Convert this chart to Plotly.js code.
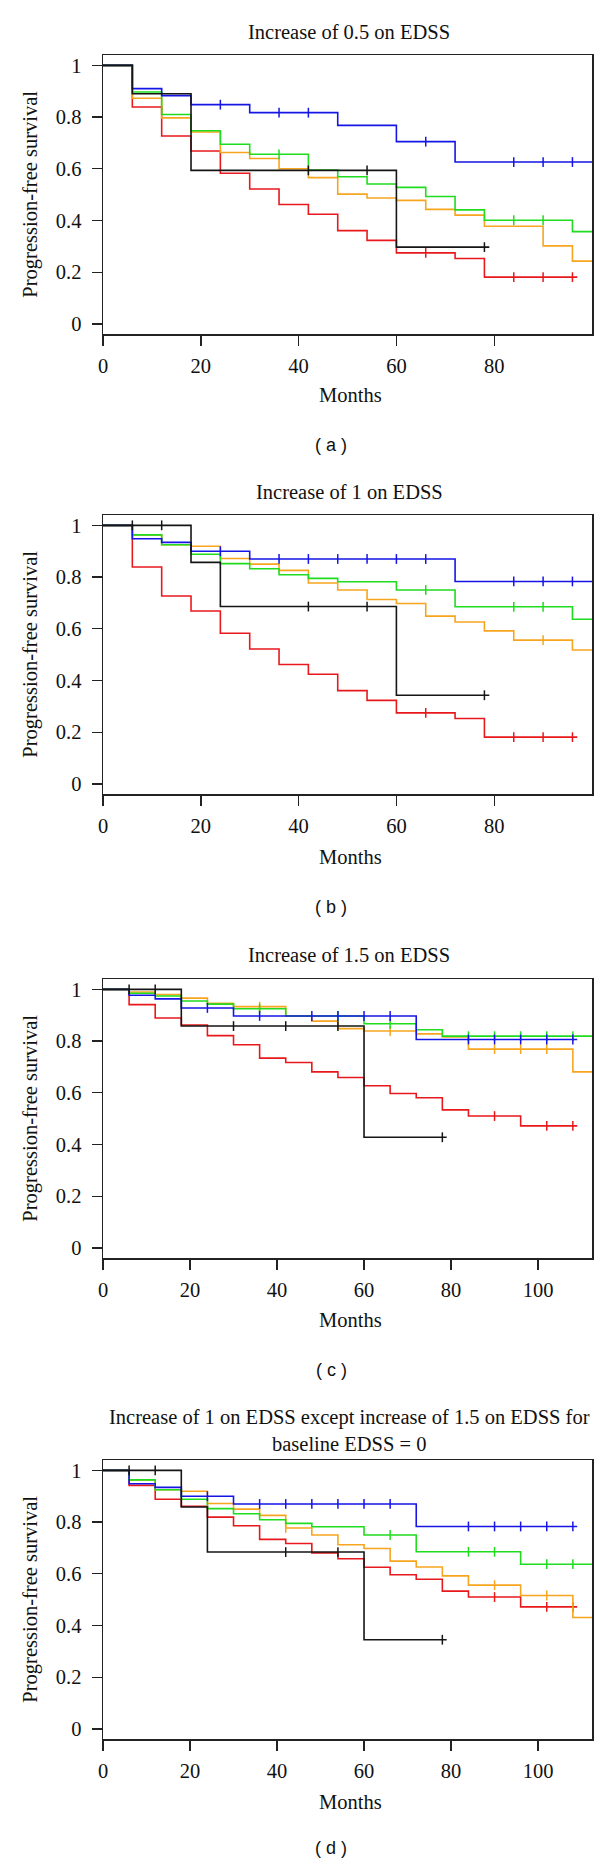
<!DOCTYPE html>
<html>
<head>
<meta charset="utf-8">
<script src="https://cdn.plot.ly/plotly-3.0.1.min.js"></script>
<style>html,body{margin:0;padding:0;background:#fff;}#chart{width:600px;height:1865px;}</style>
</head>
<body>
<div id="chart"></div>
<script>
// ---------- DATA (months, progression-free survival, censoring months) ----------
// Panel (a) Increase of 0.5 on EDSS
const aBlueT = [0, 6, 12, 18, 30, 48, 60, 72, 100];
const aBlueS = [1, 0.910, 0.883, 0.848, 0.817, 0.768, 0.705, 0.626, 0.626];
const aBlueC = [24, 36, 42, 66, 84, 90, 96];
const aGreenT = [0, 6, 12, 18, 24, 30, 42, 48, 54, 60, 66, 72, 78, 96, 100];
const aGreenS = [1, 0.897, 0.810, 0.747, 0.695, 0.656, 0.595, 0.569, 0.541, 0.528, 0.493, 0.441, 0.401, 0.357, 0.357];
const aGreenC = [36, 84, 90];
const aOrangeT = [0, 6, 12, 18, 24, 30, 36, 42, 48, 54, 60, 66, 72, 78, 90, 96, 100];
const aOrangeS = [1, 0.873, 0.797, 0.742, 0.663, 0.640, 0.600, 0.566, 0.502, 0.487, 0.478, 0.443, 0.421, 0.378, 0.302, 0.243, 0.243];
const aOrangeC = [];
const aRedT = [0, 6, 12, 18, 24, 30, 36, 42, 48, 54, 60, 72, 78, 97];
const aRedS = [1, 0.839, 0.727, 0.669, 0.583, 0.522, 0.462, 0.424, 0.361, 0.323, 0.275, 0.253, 0.181, 0.181];
const aRedC = [66, 84, 90, 96];
const aBlackT = [0, 6, 18, 60, 79];
const aBlackS = [1, 0.890, 0.594, 0.297, 0.297];
const aBlackC = [42, 54, 78];

// Panel (b) Increase of 1 on EDSS
const bBlueT = [0, 6, 12, 18, 30, 72, 100];
const bBlueS = [1, 0.948, 0.934, 0.900, 0.870, 0.783, 0.783];
const bBlueC = [24, 36, 42, 48, 54, 60, 66, 84, 90, 96];
const bGreenT = [0, 6, 12, 18, 24, 30, 36, 42, 48, 60, 72, 96, 100];
const bGreenS = [1, 0.963, 0.925, 0.888, 0.852, 0.832, 0.809, 0.795, 0.782, 0.750, 0.685, 0.637, 0.637];
const bGreenC = [66, 84, 90];
const bOrangeT = [0, 6, 12, 18, 24, 30, 36, 42, 48, 54, 60, 66, 72, 78, 84, 96, 100];
const bOrangeS = [1, 0.963, 0.925, 0.919, 0.872, 0.850, 0.826, 0.777, 0.750, 0.713, 0.698, 0.649, 0.626, 0.592, 0.556, 0.518, 0.518];
const bOrangeC = [90];
const bRedT = [0, 6, 12, 18, 24, 30, 36, 42, 48, 54, 60, 72, 78, 97];
const bRedS = [1, 0.839, 0.727, 0.669, 0.583, 0.522, 0.462, 0.424, 0.361, 0.323, 0.275, 0.253, 0.181, 0.181];
const bRedC = [66, 84, 90, 96];
const bBlackT = [0, 18, 24, 60, 79];
const bBlackS = [1, 0.857, 0.686, 0.343, 0.343];
const bBlackC = [6, 12, 42, 54, 78];

// Panel (c) Increase of 1.5 on EDSS
const cBlueT = [0, 6, 12, 18, 30, 72, 109];
const cBlueS = [1, 0.977, 0.963, 0.928, 0.897, 0.806, 0.806];
const cBlueC = [24, 36, 48, 54, 60, 66, 84, 90, 96, 102, 108];
const cGreenT = [0, 6, 12, 18, 24, 30, 42, 60, 72, 78, 113];
const cGreenS = [1, 0.985, 0.974, 0.955, 0.943, 0.925, 0.897, 0.867, 0.844, 0.819, 0.819];
const cGreenC = [36, 54, 66, 84, 90, 96, 102, 108];
const cOrangeT = [0, 6, 12, 18, 24, 30, 42, 48, 54, 60, 72, 78, 84, 108, 113];
const cOrangeS = [1, 0.990, 0.980, 0.966, 0.946, 0.933, 0.897, 0.877, 0.848, 0.839, 0.828, 0.816, 0.769, 0.681, 0.681];
const cOrangeC = [36, 66, 90, 96, 102];
const cRedT = [0, 6, 12, 18, 24, 30, 36, 42, 48, 54, 60, 66, 72, 78, 84, 96, 109];
const cRedS = [1, 0.941, 0.889, 0.862, 0.821, 0.786, 0.734, 0.717, 0.681, 0.659, 0.627, 0.597, 0.581, 0.534, 0.510, 0.472, 0.472];
const cRedC = [90, 102, 108];
const cBlackT = [0, 18, 60, 79];
const cBlackS = [1, 0.858, 0.428, 0.428];
const cBlackC = [6, 12, 30, 42, 54, 78];

// Panel (d) Increase of 1 on EDSS except increase of 1.5 on EDSS for baseline EDSS = 0
const dBlueT = [0, 6, 12, 18, 30, 72, 109];
const dBlueS = [1, 0.948, 0.934, 0.900, 0.870, 0.783, 0.783];
const dBlueC = [24, 36, 42, 48, 54, 60, 66, 84, 90, 96, 102, 108];
const dGreenT = [0, 6, 12, 18, 24, 30, 36, 42, 48, 60, 72, 96, 113];
const dGreenS = [1, 0.963, 0.925, 0.888, 0.852, 0.832, 0.809, 0.795, 0.782, 0.750, 0.685, 0.637, 0.637];
const dGreenC = [66, 84, 90, 102, 108];
const dOrangeT = [0, 6, 12, 18, 24, 30, 36, 42, 48, 54, 60, 66, 72, 78, 84, 96, 108, 113];
const dOrangeS = [1, 0.963, 0.925, 0.919, 0.872, 0.850, 0.826, 0.777, 0.750, 0.712, 0.698, 0.649, 0.626, 0.592, 0.556, 0.516, 0.431, 0.431];
const dOrangeC = [42, 90, 102];
const dRedT = [0, 6, 12, 18, 24, 30, 36, 42, 48, 54, 60, 66, 72, 78, 84, 96, 109];
const dRedS = [1, 0.942, 0.888, 0.861, 0.819, 0.786, 0.733, 0.717, 0.681, 0.658, 0.625, 0.596, 0.579, 0.533, 0.510, 0.472, 0.472];
const dRedC = [90, 102, 108];
const dBlackT = [0, 18, 24, 60, 79];
const dBlackS = [1, 0.858, 0.684, 0.345, 0.345];
const dBlackC = [6, 12, 42, 54, 78];

const panelTitles = ["Increase of 0.5 on EDSS", "Increase of 1 on EDSS", "Increase of 1.5 on EDSS",
  "Increase of 1 on EDSS except increase of 1.5 on EDSS for<br>baseline EDSS = 0"];
const panelLetters = ["( a )", "( b )", "( c )", "( d )"];
const xMax = [100, 100, 112.4, 112.4];
const xTicks = [[0, 20, 40, 60, 80], [0, 20, 40, 60, 80], [0, 20, 40, 60, 80, 100], [0, 20, 40, 60, 80, 100]];
const yTickVals = [0, 0.2, 0.4, 0.6, 0.8, 1];
const yTickText = ["0", "0.2", "0.4", "0.6", "0.8", "1"];
const xTitle = "Months";
const yTitle = "Progression-free survival";

// ---------- STYLE / LAYOUT ----------
const colors = {red: "#e8191c", orange: "#f7a51e", green: "#1fdc1f", blue: "#1515e6", black: "#151515"};
const panels = [
  {red: [aRedT, aRedS, aRedC], orange: [aOrangeT, aOrangeS, aOrangeC], green: [aGreenT, aGreenS, aGreenC], blue: [aBlueT, aBlueS, aBlueC], black: [aBlackT, aBlackS, aBlackC]},
  {red: [bRedT, bRedS, bRedC], orange: [bOrangeT, bOrangeS, bOrangeC], green: [bGreenT, bGreenS, bGreenC], blue: [bBlueT, bBlueS, bBlueC], black: [bBlackT, bBlackS, bBlackC]},
  {red: [cRedT, cRedS, cRedC], orange: [cOrangeT, cOrangeS, cOrangeC], green: [cGreenT, cGreenS, cGreenC], blue: [cBlueT, cBlueS, cBlueC], black: [cBlackT, cBlackS, cBlackC]},
  {red: [dRedT, dRedS, dRedC], orange: [dOrangeT, dOrangeS, dOrangeC], green: [dGreenT, dGreenS, dGreenC], blue: [dBlueT, dBlueS, dBlueC], black: [dBlackT, dBlackS, dBlackC]}
];
const order = ["red", "orange", "green", "blue", "black"];

const W = 600, H = 1865;
const plotLeft = 103, plotRight = 592;
const boxes = [{top: 55, bottom: 334.3}, {top: 515, bottom: 794.3}, {top: 979, bottom: 1258.3}, {top: 1460, bottom: 1739.3}];
const titleY = [32, 491.7, 955, 1430];
const monthsY = [395, 856.7, 1320, 1801.7];
const letterY = [445, 906.7, 1370, 1848];
const serif = "Liberation Serif, Times New Roman, serif";
const sans = "Liberation Sans, Arial, sans-serif";
const fs = 20.5;

function survAt(T, S, c) {
  let v = S[0];
  for (let i = 0; i < T.length; i++) if (T[i] <= c) v = S[i];
  return v;
}

const traces = [];
const layout = {
  width: W, height: H, margin: {l: 0, r: 0, t: 0, b: 0},
  paper_bgcolor: "#fff", plot_bgcolor: "#fff", showlegend: false,
  annotations: []
};

panels.forEach((p, i) => {
  const xa = i === 0 ? "x" : "x" + (i + 1);
  const ya = i === 0 ? "y" : "y" + (i + 1);
  order.forEach(k => {
    const [T, S, C] = p[k];
    traces.push({x: T, y: S, xaxis: xa, yaxis: ya, mode: "lines", line: {shape: "hv", color: colors[k], width: 1.6}, hoverinfo: "skip"});
    if (C.length) {
      traces.push({x: C, y: C.map(c => survAt(T, S, c)), xaxis: xa, yaxis: ya, mode: "markers",
        marker: {symbol: "line-ns", size: 7, line: {color: colors[k], width: 1.5}}, cliponaxis: false, hoverinfo: "skip"});
    }
  });
  const b = boxes[i];
  const xKey = i === 0 ? "xaxis" : "xaxis" + (i + 1);
  const yKey = i === 0 ? "yaxis" : "yaxis" + (i + 1);
  layout[xKey] = {
    domain: [plotLeft / W, plotRight / W], anchor: ya, range: [0, xMax[i]],
    tickvals: xTicks[i], ticktext: xTicks[i].map(String), ticks: "outside", ticklen: 10, tickwidth: 1.4, tickcolor: "#222",
    showline: true, linecolor: "#222", linewidth: 1.5, mirror: true, showgrid: false, zeroline: false,
    tickfont: {family: serif, size: fs, color: "#111"}, ticklabelstandoff: 3, automargin: false, fixedrange: true
  };
  layout[yKey] = {
    domain: [1 - b.bottom / H, 1 - b.top / H], anchor: xa, range: [-0.04, 1.04],
    tickvals: yTickVals, ticktext: yTickText, ticks: "outside", ticklen: 10, tickwidth: 1.4, tickcolor: "#222",
    showline: true, linecolor: "#222", linewidth: 1.5, mirror: true, showgrid: false, zeroline: false,
    tickfont: {family: serif, size: fs, color: "#111"}, ticklabelstandoff: 6, automargin: false, fixedrange: true
  };
  const ann = layout.annotations;
  ann.push({text: panelTitles[i], xref: "paper", yref: "paper", x: 349 / W, y: 1 - titleY[i] / H,
    xanchor: "center", yanchor: "middle", showarrow: false, font: {family: serif, size: fs, color: "#111"}});
  ann.push({text: xTitle, xref: "paper", yref: "paper", x: 350 / W, y: 1 - monthsY[i] / H,
    xanchor: "center", yanchor: "middle", showarrow: false, font: {family: serif, size: fs, color: "#111"}});
  ann.push({text: yTitle, xref: "paper", yref: "paper", x: 31 / W, y: 1 - (b.top + b.bottom) / 2 / H,
    xanchor: "center", yanchor: "middle", textangle: -90, showarrow: false, font: {family: serif, size: fs, color: "#111"}});
  ann.push({text: panelLetters[i], xref: "paper", yref: "paper", x: 331 / W, y: 1 - letterY[i] / H,
    xanchor: "center", yanchor: "middle", showarrow: false, font: {family: sans, size: 18, color: "#111"}});
});

Plotly.newPlot("chart", traces, layout, {staticPlot: true, displayModeBar: false});
</script>
</body>
</html>
